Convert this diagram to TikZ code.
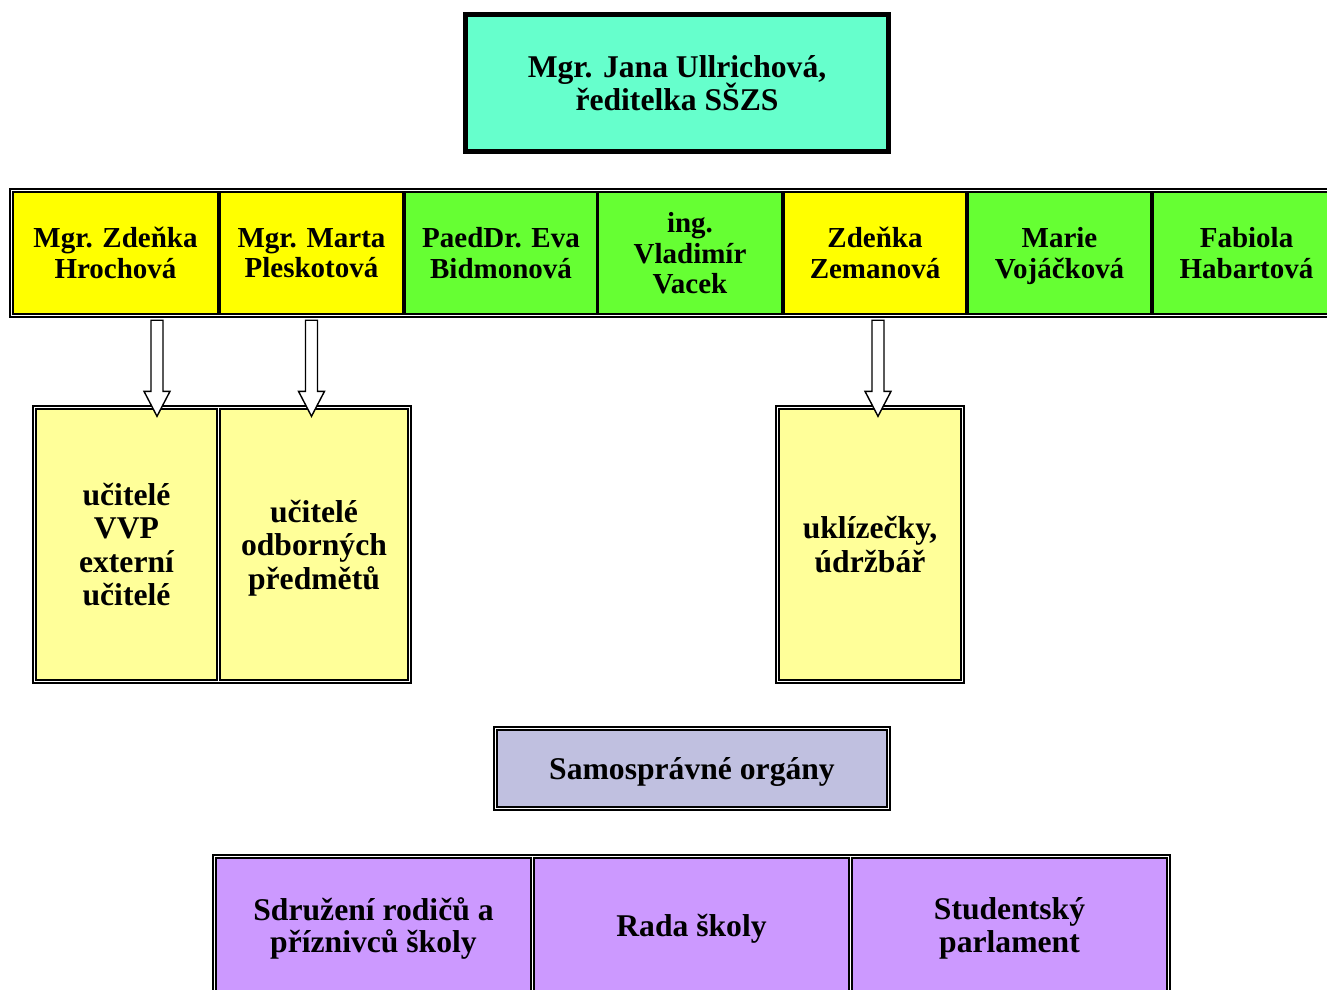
\documentclass[tikz,border=0pt]{standalone}
\usepackage{fontspec}
\setmainfont{Liberation Serif}
\usetikzlibrary{fit,calc}

\definecolor{headgreen}{HTML}{66FFCC}
\definecolor{yel}{HTML}{FFFF00}
\definecolor{grn}{HTML}{66FF33}
\definecolor{paleyellow}{HTML}{FFFF99}
\definecolor{lavender}{HTML}{C0C0E0}
\definecolor{lilac}{HTML}{CC99FF}

\newcommand\cellfont{\bfseries\fontsize{16.5}{17.6}\selectfont\lineskiplimit=-20pt}
\newcommand\staffont{\bfseries\fontsize{18}{19}\selectfont\lineskiplimit=-20pt}
\newcommand\orgfont{\bfseries\fontsize{18}{18.6}\selectfont\lineskiplimit=-20pt}

\begin{document}
\begin{tikzpicture}[
    txt/.style={align=center, text depth=0pt},
    cell/.style={txt, draw, line width=0.8pt, inner sep=0pt, font=\cellfont, minimum height=2.44cm},
    staff/.style={cell, fill=paleyellow, font=\staffont, minimum height=5.42cm},
    org/.style={cell, font=\orgfont},
    frame/.style={draw, line width=1.2pt, inner sep=0.05cm},
    blockarrow/.style={draw, fill=white, line width=0.8pt, line join=miter}
]
\useasboundingbox (0,0) rectangle (26.54,-19.78);

% director
\draw (13.54,-1.66) node[txt, draw, line width=2.8pt, fill=headgreen, minimum width=8.46cm, minimum height=2.74cm, font=\orgfont] (ullrich) {Mgr. Jana Ullrichová,\\ředitelka SŠZS};

% deputies
\draw (2.31,-5.06)  node[cell, fill=yel, minimum width=4.10cm] (hroch) {Mgr. Zdeňka\\Hrochová};
\draw (6.23,-5.06)  node[cell, fill=yel, minimum width=3.66cm] (pleskot) {Mgr. Marta\\Pleskotová};
\draw (10.02,-5.06) node[cell, fill=grn, minimum width=3.84cm] (bidmon) {PaedDr. Eva\\Bidmonová};
\draw (13.80,-5.06) node[cell, fill=grn, minimum width=3.68cm] (vacek) {ing.\\Vladimír\\Vacek};
\draw (17.50,-5.06) node[cell, fill=yel, minimum width=3.64cm] (zeman) {Zdeňka\\Zemanová};
\draw (21.19,-5.06) node[cell, fill=grn, minimum width=3.66cm] (vojac) {Marie\\Vojáčková};
\draw (24.93,-5.06) node[cell, fill=grn, minimum width=3.74cm] (habart) {Fabiola\\Habartová};
\node[frame, fit=(hroch)(habart)] (deputies) {};

% staff
\draw (2.53,-10.89)  node[staff, minimum width=3.62cm] (vvp) {učitelé\\VVP\\externí\\učitelé};
\draw (6.28,-10.89)  node[staff, minimum width=3.76cm] (odbor) {učitelé\\odborných\\předmětů};
\node[frame, fit=(vvp)(odbor)] (teachers) {};
\draw (17.40,-10.89) node[staff, minimum width=3.64cm] (uklid) {uklízečky,\\údržbář};
\node[frame, fit=(uklid)] (service) {};

\foreach \src/\dst/\dx in {hroch/vvp/0.83, pleskot/odbor/0, zeman/uklid/0.06}
  \draw[blockarrow] let \p1=($(\src.south)+(\dx,-0.11)$), \p2=(\dst.north) in
    (\x1-0.12cm,\y1) -- (\x1-0.12cm,\y2+0.34cm) -- (\x1-0.26cm,\y2+0.34cm) -- (\x1,\y2-0.16cm)
    -- (\x1+0.26cm,\y2+0.34cm) -- (\x1+0.12cm,\y2+0.34cm) -- (\x1+0.12cm,\y1) -- cycle;

% self-government
\draw (13.84,-15.37) node[org, fill=lavender, minimum width=7.80cm, minimum height=1.54cm] (samo) {Samosprávné orgány};
\node[frame, fit=(samo)] (samoframe) {};

\draw (7.47,-18.50)  node[org, fill=lilac, minimum width=6.30cm, minimum height=2.68cm] (rodice) {Sdružení rodičů a\\příznivců školy};
\draw (13.83,-18.50) node[org, fill=lilac, minimum width=6.30cm, minimum height=2.68cm] (rada) {Rada školy};
\draw (20.19,-18.50) node[org, fill=lilac, minimum width=6.30cm, minimum height=2.68cm] (parlament) {Studentský\\parlament};
\node[frame, fit=(rodice)(parlament)] (bodies) {};
\end{tikzpicture}
\end{document}
